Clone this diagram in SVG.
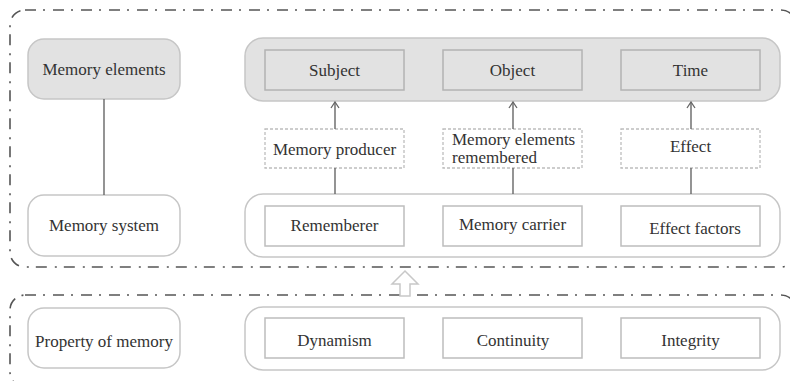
<svg xmlns="http://www.w3.org/2000/svg" width="790" height="381" viewBox="0 0 790 381">
<defs>
<style>
.frame{fill:none;stroke:#555;stroke-width:1.6;stroke-dasharray:11 7 2 8}
.gpanel{fill:#e2e2e2;stroke:#c6c6c6;stroke-width:1.5}
.wpanel{fill:#fff;stroke:#c6c6c6;stroke-width:1.5}
.gbox{fill:#e2e2e2;stroke:#b3b3b3;stroke-width:1.5}
.wbox{fill:#fff;stroke:#bdbdbd;stroke-width:1.5}
.dbox{fill:#fff;stroke:#bdbdbd;stroke-width:1.3;stroke-dasharray:3 2}
text{font-family:"Liberation Serif","DejaVu Serif","Times New Roman",serif;font-size:17px;fill:#333}
.t{text-anchor:middle}
.c{stroke:#666;stroke-width:1.4;fill:none}
</style>
<marker id="ah" viewBox="0 0 10 10" refX="9" refY="5" markerWidth="10" markerHeight="10" markerUnits="userSpaceOnUse" orient="auto">
<path d="M3,1 L9,5 L3,9" fill="none" stroke="#666" stroke-width="1.3"/>
</marker>
</defs>
<rect width="790" height="381" fill="#fff"/>
<g id="frame-top"><rect class="frame" x="10" y="10" width="786" height="257" rx="15"/></g>
<g id="frame-bottom"><rect class="frame" x="10" y="295" width="786" height="92" rx="15"/></g>

<g id="memory-elements"><rect class="gpanel" x="28" y="39" width="152" height="60" rx="16"/><text class="t" x="104" y="75">Memory elements</text></g>
<g id="memory-system"><rect class="wpanel" x="28" y="195" width="152" height="61" rx="16"/><text class="t" x="104" y="231">Memory system</text></g>
<g id="property-of-memory"><rect class="wpanel" x="28" y="308" width="152" height="60" rx="16"/><text class="t" x="104" y="347">Property of memory</text></g>

<g id="elements-panel"><rect class="gpanel" x="245" y="38" width="535" height="63" rx="18"/></g>
<g id="subject"><rect class="gbox" x="265" y="50" width="139" height="40"/><text class="t" x="334.5" y="76">Subject</text></g>
<g id="object"><rect class="gbox" x="443" y="50" width="139" height="40"/><text class="t" x="512.5" y="76">Object</text></g>
<g id="time"><rect class="gbox" x="621" y="50" width="139" height="40"/><text class="t" x="690.5" y="76">Time</text></g>

<g id="memory-producer"><rect class="dbox" x="265" y="129" width="139" height="39"/><text class="t" x="334.5" y="155">Memory producer</text></g>
<g id="memory-elements-remembered"><rect class="dbox" x="443" y="129" width="139" height="39"/><text x="452" y="145">Memory elements</text><text x="452" y="163">remembered</text></g>
<g id="effect"><rect class="dbox" x="621" y="129" width="139" height="39"/><text class="t" x="690.5" y="152">Effect</text></g>

<g id="system-panel"><rect class="wpanel" x="245" y="194" width="535" height="63" rx="18"/></g>
<g id="rememberer"><rect class="wbox" x="265" y="206" width="139" height="40"/><text class="t" x="334.5" y="231">Rememberer</text></g>
<g id="memory-carrier"><rect class="wbox" x="443" y="206" width="139" height="40"/><text class="t" x="512.5" y="230">Memory carrier</text></g>
<g id="effect-factors"><rect class="wbox" x="621" y="206" width="139" height="40"/><text class="t" x="695" y="234">Effect factors</text></g>

<g id="property-panel"><rect class="wpanel" x="245" y="307" width="535" height="63" rx="18"/></g>
<g id="dynamism"><rect class="wbox" x="265" y="318" width="139" height="40"/><text class="t" x="334.5" y="346">Dynamism</text></g>
<g id="continuity"><rect class="wbox" x="443" y="318" width="139" height="40"/><text class="t" x="513" y="346">Continuity</text></g>
<g id="integrity"><rect class="wbox" x="621" y="318" width="139" height="40"/><text class="t" x="690.5" y="346">Integrity</text></g>

<g id="connectors">
<line class="c" x1="104" y1="99" x2="104" y2="195"/>
<line class="c" x1="335" y1="129" x2="335" y2="102" marker-end="url(#ah)"/>
<line class="c" x1="513" y1="129" x2="513" y2="102" marker-end="url(#ah)"/>
<line class="c" x1="691" y1="129" x2="691" y2="102" marker-end="url(#ah)"/>
<line class="c" x1="335" y1="168" x2="335" y2="194"/>
<line class="c" x1="513" y1="168" x2="513" y2="194"/>
<line class="c" x1="691" y1="168" x2="691" y2="194"/>
<path d="M405,271 L418,284 L410,284 L410,296 L400,296 L400,284 L392,284 Z" fill="#fff" stroke="#c8c8c8" stroke-width="1.5"/>
</g>
</svg>
